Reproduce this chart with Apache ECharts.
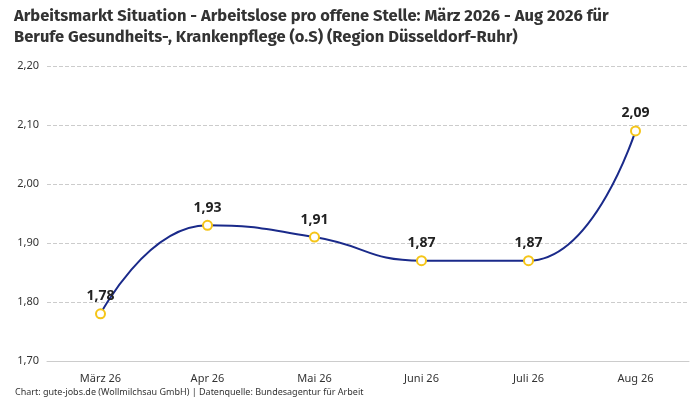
<!DOCTYPE html>
<html><head><meta charset="utf-8">
<script src="https://cdn.jsdelivr.net/npm/echarts@6/dist/echarts.min.js"></script>
<style>html,body{margin:0;padding:0;background:#fff}#c{width:700px;height:400px}</style>
</head><body><div id="c"></div>
<script>
const categories = ["März 26","Apr 26","Mai 26","Juni 26","Juli 26","Aug 26"];
const values = [1.78,1.93,1.91,1.87,1.87,2.09];
const fmt = v => v.toFixed(2).replace('.', ',');
const chart = echarts.init(document.getElementById('c'));
chart.setOption({
  animation:false,
  title:[{text:"Arbeitsmarkt Situation - Arbeitslose pro offene Stelle: März 2026 - Aug 2026 für\nBerufe Gesundheits-, Krankenpflege (o.S) (Region Düsseldorf-Ruhr)",
    left:9,top:1,textStyle:{fontFamily:"Fira Sans, Noto Sans, sans-serif",fontSize:16.5,fontWeight:'bold',color:'#333',lineHeight:21}},
    {text:"Chart: gute-jobs.de (Wollmilchsau GmbH) | Datenquelle: Bundesagentur für Arbeit",left:10,top:383,
    textStyle:{fontSize:9,fontWeight:'normal',color:'#333',fontFamily:"Noto Sans, sans-serif"}}],
  grid:{left:47,right:11,top:66,bottom:39},
  xAxis:{type:'category',data:categories,axisTick:{show:false},axisLine:{lineStyle:{color:'#ccc'}},
    axisLabel:{color:'#333',fontSize:11,margin:12,fontFamily:"Noto Sans, sans-serif"}},
  yAxis:{type:'value',min:1.7,max:2.2,interval:0.1,axisLabel:{formatter:v=>fmt(v),color:'#333',fontSize:11,fontFamily:"Noto Sans, sans-serif"},
    splitLine:{lineStyle:{type:'dashed',color:'#ccc'}}},
  series:[{type:'line',data:values,smooth:true,symbol:'circle',symbolSize:9,
    lineStyle:{color:'#1a2a8a',width:2},
    itemStyle:{color:'#fff',borderColor:'#f5c518',borderWidth:2},
    label:{show:true,position:'top',formatter:p=>fmt(p.value),fontSize:14,fontWeight:'bold',color:'#222',fontFamily:"Noto Sans, sans-serif"}}]
});
</script></body></html>
